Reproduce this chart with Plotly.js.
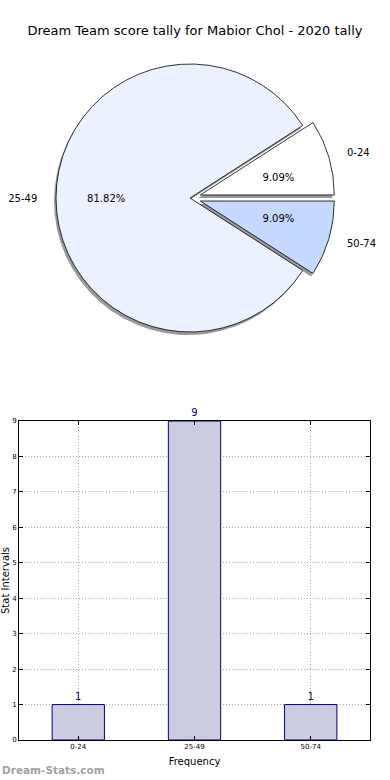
<!DOCTYPE html>
<html>
<head>
<meta charset="utf-8">
<script src="https://cdn.plot.ly/plotly-3.0.1.min.js"></script>
<style>html,body{margin:0;padding:0;background:#fff;}#chart{width:390px;height:780px;}</style>
</head>
<body>
<div id="chart"></div>
<script>
const categories = ["0-24", "25-49", "50-74"];
const counts = [1, 9, 1];
const explode = [0.08, 0, 0.08];
const sliceColors = ["#ffffff", "#ebf1ff", "#c6d9ff"];
const yTicks = [0, 1, 2, 3, 4, 5, 6, 7, 8, 9];
const titleText = "Dream Team score tally for Mabior Chol - 2020 tally";

const W = 390, H = 780;
const total = counts.reduce((a, b) => a + b, 0);
// first slice starts at 3 o'clock and runs counterclockwise
const rot = 90 - 360 * counts[0] / total;
// pie placement (pixels)
const cx = 190, cy = 198, r = 134;
const pullPx = explode.map(e => e * r);
// domain for a pie of radius R whose pulled slices move by pullPx
function pieSpec(R, dx, dy) {
  const pulls = pullPx.map(p => p / R);
  const mp = Math.max(...pulls);
  const half = R * (1 + mp);
  return {
    pull: pulls,
    domain: {
      x: [(cx - half + dx) / W, (cx + half + dx) / W],
      y: [1 - (cy + half + dy) / H, 1 - (cy - half + dy) / H]
    }
  };
}
const font = "DejaVu Sans, sans-serif";
const base = {type: "pie", labels: categories, values: counts, sort: false,
  direction: "counterclockwise", rotation: rot, showlegend: false};

const sh = pieSpec(r, -2, 3);
const shadow = Object.assign({}, base, {
  pull: sh.pull, domain: sh.domain,
  marker: {colors: categories.map(() => "rgba(120,120,120,0.75)"), line: {width: 0}},
  textinfo: "none", hoverinfo: "skip"
});
const mn = pieSpec(r, 0, 0);
const main = Object.assign({}, base, {
  pull: mn.pull, domain: mn.domain,
  marker: {colors: sliceColors, line: {color: "#000", width: 0.8}},
  textinfo: "none"
});
const pc = pieSpec(62, 0, 0);
const pctTrace = Object.assign({}, base, {
  pull: pc.pull, domain: pc.domain,
  marker: {colors: categories.map(() => "rgba(0,0,0,0)"), line: {width: 0}},
  texttemplate: "%{percent:.2%}", textposition: "outside", automargin: false,
  textfont: {family: font, size: 10, color: "#000"}, hoverinfo: "skip"
});
const lb = pieSpec(150, 0, 0);
const labelsTrace = Object.assign({}, base, {
  pull: lb.pull, domain: lb.domain,
  marker: {colors: categories.map(() => "rgba(0,0,0,0)"), line: {width: 0}},
  textinfo: "label", textposition: "outside", automargin: false,
  textfont: {family: font, size: 10, color: "#000"}, hoverinfo: "skip"
});
const bars = {
  type: "bar", x: categories, y: counts, width: 0.45,
  marker: {color: "#ccccdf", line: {color: "#000080", width: 1}},
  text: counts.map(String), textposition: "outside", cliponaxis: false,
  textfont: {family: font, size: 10, color: "#000080"},
  xaxis: "x", yaxis: "y", showlegend: false
};

const layout = {
  width: W, height: H,
  margin: {l: 0, r: 0, t: 0, b: 0},
  paper_bgcolor: "#fff", plot_bgcolor: "#fff",
  font: {family: font, color: "#000"},
  title: {text: titleText, font: {family: font, size: 13, color: "#000"}, x: 0.5, xanchor: "center", y: 1 - 30 / H, yanchor: "middle"},
  xaxis: {
    domain: [19 / W, 370 / W], range: [-0.51, 2.51], type: "category",
    showgrid: true, gridcolor: "#a8a8a8", griddash: "1px,2px", gridwidth: 1,
    showline: true, linecolor: "#000", linewidth: 1, mirror: "ticks",
    ticks: "inside", ticklen: 4, tickcolor: "#000",
    tickfont: {family: font, size: 7, color: "#000"},
    title: {text: "Frequency", font: {family: font, size: 10, color: "#000"}, standoff: 7},
    zeroline: false
  },
  yaxis: {
    domain: [1 - 740 / H, 1 - 421 / H], range: [0, 9],
    tickvals: yTicks, ticktext: yTicks.map(String),
    showgrid: true, gridcolor: "#a8a8a8", griddash: "1px,2px", gridwidth: 1,
    showline: true, linecolor: "#000", linewidth: 1, mirror: "ticks",
    ticks: "inside", ticklen: 4, tickcolor: "#000",
    tickfont: {family: font, size: 7, color: "#000"},
    title: {text: "Stat Intervals", font: {family: font, size: 10, color: "#000"}, standoff: 1},
    zeroline: false
  },
  annotations: [{
    text: "<b>Dream-Stats.com</b>", xref: "paper", yref: "paper",
    x: 0, y: 1 - 770 / H, xanchor: "left", yanchor: "middle", showarrow: false,
    font: {family: font, size: 10.5, color: "#a0a0a0"}
  }]
};

Plotly.newPlot("chart", [shadow, main, pctTrace, labelsTrace, bars], layout, {staticPlot: true});
</script>
</body>
</html>
